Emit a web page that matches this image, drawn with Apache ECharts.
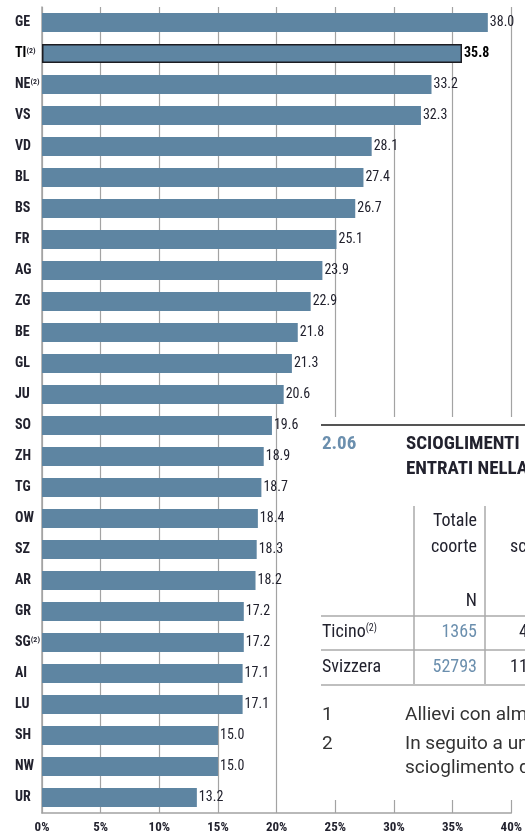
<!DOCTYPE html>
<html>
<head>
<meta charset="utf-8">
<script src="https://cdn.jsdelivr.net/npm/echarts@6/dist/echarts.min.js"></script>
<style>
  html, body { margin: 0; padding: 0; background: #fff; }
  #chart { width: 525px; height: 834px; }
</style>
</head>
<body>
<div id="chart"></div>
<script>
// cantons, top to bottom; sup = footnote marker
const cantons = ['GE', 'TI', 'NE', 'VS', 'VD', 'BL', 'BS', 'FR', 'AG', 'ZG', 'BE', 'GL', 'JU',
  'SO', 'ZH', 'TG', 'OW', 'SZ', 'AR', 'GR', 'SG', 'AI', 'LU', 'SH', 'NW', 'UR'];
const footnoted = ['TI', 'NE', 'SG'];
const shares = [38.0, 35.8, 33.2, 32.3, 28.1, 27.4, 26.7, 25.1, 23.9, 22.9, 21.8, 21.3, 20.6,
  19.6, 18.9, 18.7, 18.4, 18.3, 18.2, 17.2, 17.2, 17.1, 17.1, 15.0, 15.0, 13.2];
const highlight = 'TI';
const xTicks = [0, 5, 10, 15, 20, 25, 30, 35, 40];

const NARROW = '"Liberation Sans Narrow", "Arial Narrow", "Roboto Condensed", "Open Sans Condensed", "DejaVu Sans Condensed", sans-serif';
const BODY = 'Roboto, "Noto Sans", sans-serif';
const INK = '#22222e';
const BAR = '#5e85a2';
const GRID = '#a3a3a3';
const BLUE = '#6b8fae';

const chart = echarts.init(document.getElementById('chart'), null, { renderer: 'canvas' });

const data = shares.map((v, i) => {
  const hi = cantons[i] === highlight;
  return {
    value: v,
    itemStyle: hi ? { color: BAR, borderColor: '#1d1d22', borderWidth: 1.5 } : undefined,
    label: hi ? { fontWeight: 'bold', color: '#000' } : undefined,
  };
});

// overlapping table fragment from the next page section
const T = { fontFamily: NARROW, fill: INK, fontSize: 18 };
const N = { fontFamily: BODY, fontSize: 19, fill: '#333' };
const graphics = [
  { type: 'rect', z: 50, shape: { x: 318, y: 417, width: 210, height: 383 }, style: { fill: '#fff' } },
  { type: 'line', z: 51, shape: { x1: 321, y1: 425, x2: 525, y2: 425 }, style: { stroke: '#555', lineWidth: 2 } },
  { type: 'text', z: 51, left: 322, top: 435, style: Object.assign({}, T, { text: '2.06', fill: BLUE, fontSize: 19, fontWeight: 'bold' }) },
  { type: 'text', z: 51, left: 406, top: 435, style: Object.assign({}, T, { text: 'SCIOGLIMENTI DEI CONTRATTI', fontSize: 19, fontWeight: 'bold' }) },
  { type: 'text', z: 51, left: 406, top: 460, style: Object.assign({}, T, { text: 'ENTRATI NELLA FORMAZIONE', fontSize: 19, fontWeight: 'bold' }) },
  { type: 'line', z: 51, shape: { x1: 414, y1: 506, x2: 414, y2: 684 }, style: { stroke: '#aaa', lineWidth: 1.5 } },
  { type: 'line', z: 51, shape: { x1: 485, y1: 506, x2: 485, y2: 684 }, style: { stroke: '#aaa', lineWidth: 1.5 } },
  { type: 'text', z: 51, right: 48, top: 512, style: Object.assign({}, T, { text: 'Totale' }) },
  { type: 'text', z: 51, right: 48, top: 538, style: Object.assign({}, T, { text: 'coorte' }) },
  { type: 'text', z: 51, left: 510, top: 538, style: Object.assign({}, T, { text: 'sciolti' }) },
  { type: 'text', z: 51, right: 48, top: 592, style: Object.assign({}, T, { text: 'N' }) },
  { type: 'line', z: 51, shape: { x1: 321, y1: 616, x2: 525, y2: 616 }, style: { stroke: '#aaa', lineWidth: 1.5 } },
  { type: 'text', z: 51, left: 322, top: 623, style: Object.assign({}, T, { text: '{a|Ticino}{s|(2)}',
      rich: { a: { fontFamily: NARROW, fontSize: 18, fill: INK }, s: { fontFamily: NARROW, fontSize: 10, fill: INK, verticalAlign: 'top', padding: [0, 0, 8, 0] } } }) },
  { type: 'text', z: 51, right: 48, top: 623, style: Object.assign({}, T, { text: '1365', fill: BLUE }) },
  { type: 'text', z: 51, left: 519, top: 623, style: Object.assign({}, T, { text: '45' }) },
  { type: 'line', z: 51, shape: { x1: 321, y1: 650, x2: 525, y2: 650 }, style: { stroke: '#aaa', lineWidth: 1.5 } },
  { type: 'text', z: 51, left: 322, top: 658, style: Object.assign({}, T, { text: 'Svizzera' }) },
  { type: 'text', z: 51, right: 48, top: 658, style: Object.assign({}, T, { text: '52793', fill: BLUE }) },
  { type: 'text', z: 51, left: 510, top: 658, style: Object.assign({}, T, { text: '1188' }) },
  { type: 'line', z: 51, shape: { x1: 321, y1: 685, x2: 525, y2: 685 }, style: { stroke: '#aaa', lineWidth: 1.5 } },
  { type: 'text', z: 51, left: 322, top: 706, style: Object.assign({}, N, { text: '1' }) },
  { type: 'text', z: 51, left: 405, top: 706, style: Object.assign({}, N, { text: 'Allievi con almeno' }) },
  { type: 'text', z: 51, left: 322, top: 735, style: Object.assign({}, N, { text: '2' }) },
  { type: 'text', z: 51, left: 405, top: 735, style: Object.assign({}, N, { text: 'In seguito a una' }) },
  { type: 'text', z: 51, left: 405, top: 759, style: Object.assign({}, N, { text: 'scioglimento del' }) },
];

chart.setOption({
  animation: false,
  grid: { left: 42, right: 12, top: 7, bottom: 21, containLabel: false },
  xAxis: {
    type: 'value', min: xTicks[0], max: xTicks[xTicks.length - 1], interval: 5,
    axisLine: { show: true, lineStyle: { color: GRID, width: 1.5 } },
    axisTick: { show: false },
    splitLine: { show: true, lineStyle: { color: GRID, width: 1.2 } },
    axisLabel: { formatter: '{value}%', color: INK, fontFamily: NARROW, fontSize: 13, fontWeight: 'bold', margin: 8 },
  },
  yAxis: {
    type: 'category', inverse: true, data: cantons,
    axisLine: { show: true, lineStyle: { color: GRID, width: 1.5 } },
    axisTick: { show: false },
    axisLabel: {
      align: 'left', margin: 27,
      formatter: (c) => {
        const b = c === highlight ? 'h' : 'n';
        return footnoted.includes(c) ? `{${b}|${c}}{s|(2)}` : `{${b}|${c}}`;
      },
      rich: {
        n: { fontFamily: NARROW, fontSize: 14, color: INK, fontWeight: 'bold' },
        h: { fontFamily: NARROW, fontSize: 14, color: '#000', fontWeight: 'bold' },
        s: { fontFamily: NARROW, fontSize: 8, color: INK, fontWeight: 'bold', verticalAlign: 'top', padding: [0, 0, 6, 0] },
      },
    },
  },
  series: [{
    type: 'bar', data, barWidth: 19,
    itemStyle: { color: BAR },
    label: {
      show: true, position: 'right', distance: 2, color: INK,
      fontFamily: NARROW, fontSize: 14,
      formatter: (p) => p.value.toFixed(1),
    },
  }],
  graphic: graphics,
});
</script>
</body>
</html>
